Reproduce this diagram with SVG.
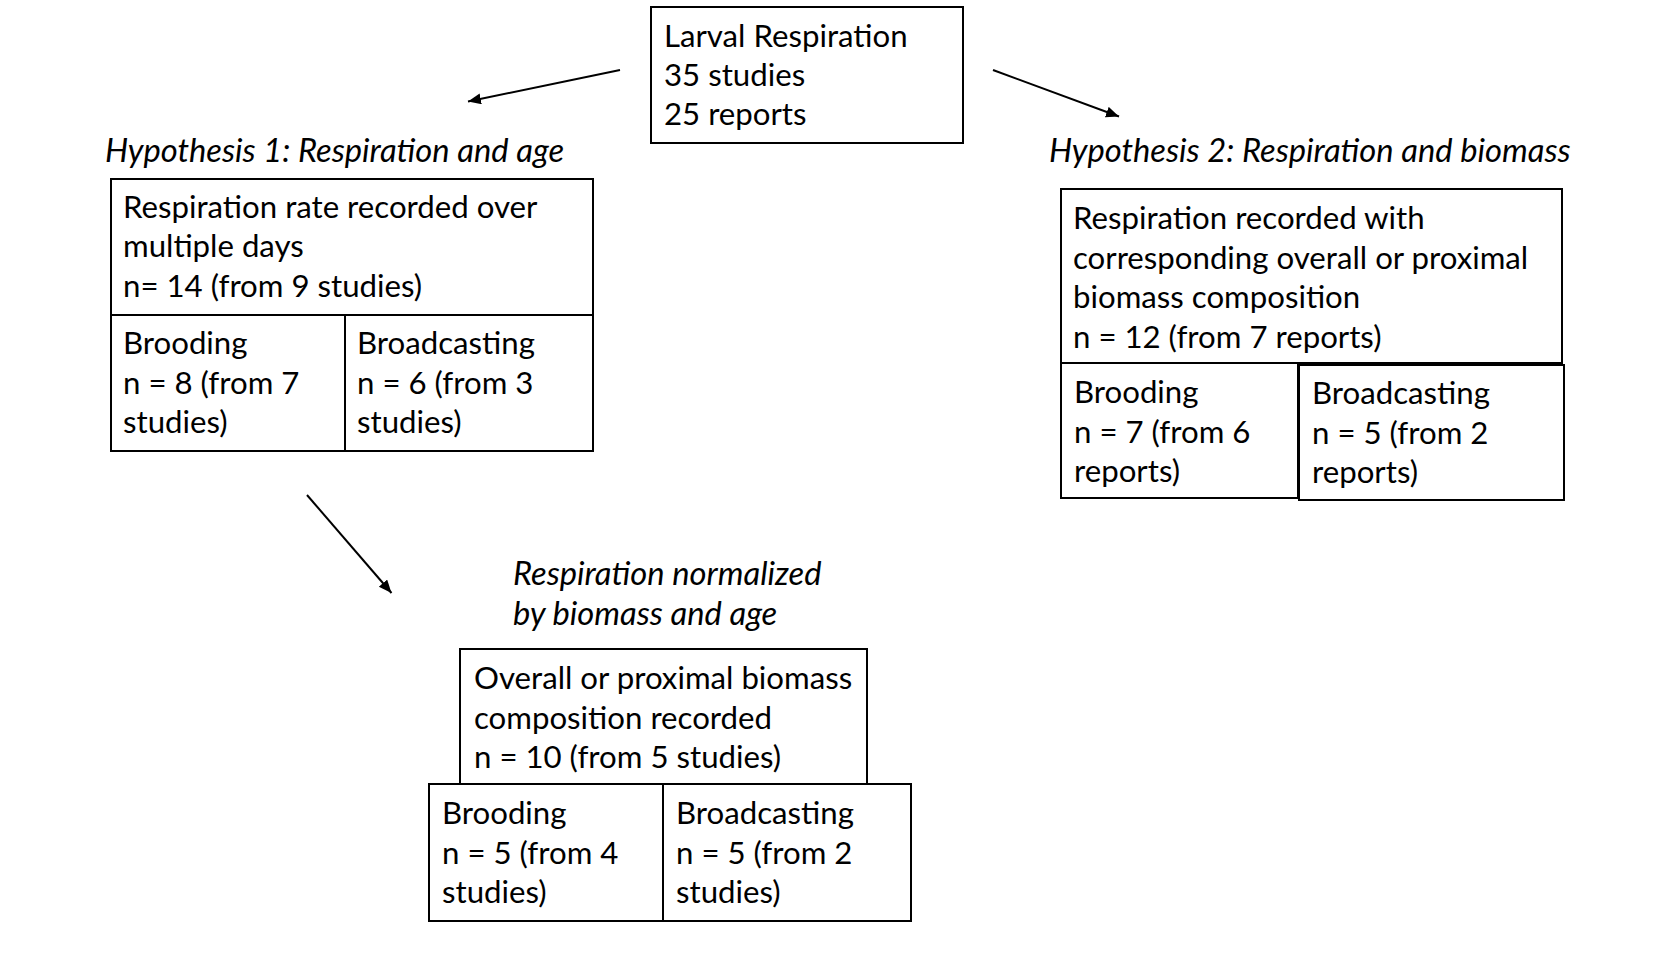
<svg xmlns="http://www.w3.org/2000/svg" width="1664" height="966" viewBox="0 0 1664 966">
<style>
.box{fill:#fff;stroke:#000;stroke-width:2}
.t{font-family:Lato,"Liberation Sans",sans-serif;font-size:31.2px;fill:#000}
.h{font-family:Lato,"Liberation Sans",sans-serif;font-size:32.7px;font-style:italic;fill:#000}
.c{stroke:#000;stroke-width:2;fill:none}
</style>
<defs>
<marker id="ah" markerUnits="userSpaceOnUse" markerWidth="14" markerHeight="12" refX="13" refY="5.5" orient="auto">
<path d="M0,0 L13,5.5 L0,11 z" fill="#000"/>
</marker>
</defs>
<rect width="1664" height="966" fill="#fff"/>
<g id="connectors">
<line class="c" x1="620" y1="70" x2="468" y2="101.5" marker-end="url(#ah)"/>
<line class="c" x1="993" y1="70" x2="1119" y2="116.5" marker-end="url(#ah)"/>
<line class="c" x1="307" y1="495" x2="391.5" y2="593" marker-end="url(#ah)"/>
</g>
<g id="root">
<rect class="box" x="651" y="7" width="312" height="136"/>
<text class="t" x="664" y="47">Larval Respiration</text>
<text class="t" x="664" y="86">35 studies</text>
<text class="t" x="664" y="125">25 reports</text>
</g>
<g id="h1">
<text class="h" x="105" y="162">Hypothesis 1: Respiration and age</text>
<rect class="box" x="111" y="179" width="482" height="272"/>
<line class="c" x1="111" y1="315" x2="593" y2="315"/>
<line class="c" x1="345" y1="315" x2="345" y2="451"/>
<text class="t" x="123" y="218">Respiration rate recorded over</text>
<text class="t" x="123" y="257">multiple days</text>
<text class="t" x="123" y="297">n= 14 (from 9 studies)</text>
</g>
<g id="h1-brooding">
<text class="t" x="123" y="354">Brooding</text>
<text class="t" x="123" y="394">n = 8 (from 7</text>
<text class="t" x="123" y="433">studies)</text>
</g>
<g id="h1-broadcasting">
<text class="t" x="357" y="354">Broadcasting</text>
<text class="t" x="357" y="394">n = 6 (from 3</text>
<text class="t" x="357" y="433">studies)</text>
</g>
<g id="h2">
<text class="h" x="1049" y="162">Hypothesis 2: Respiration and biomass</text>
<rect class="box" x="1061" y="189" width="501" height="174"/>
<text class="t" x="1073" y="229">Respiration recorded with</text>
<text class="t" x="1073" y="269">corresponding overall or proximal</text>
<text class="t" x="1073" y="308">biomass composition</text>
<text class="t" x="1073" y="348">n = 12 (from 7 reports)</text>
</g>
<g id="h2-brooding">
<rect class="box" x="1061" y="363" width="237" height="135"/>
<text class="t" x="1074" y="403">Brooding</text>
<text class="t" x="1074" y="443">n = 7 (from 6</text>
<text class="t" x="1074" y="482">reports)</text>
</g>
<g id="h2-broadcasting">
<rect class="box" x="1299" y="365" width="265" height="135"/>
<text class="t" x="1312" y="404">Broadcasting</text>
<text class="t" x="1312" y="444">n = 5 (from 2</text>
<text class="t" x="1312" y="483">reports)</text>
</g>
<g id="h3">
<text class="h" x="513" y="585">Respiration normalized</text>
<text class="h" x="513" y="625">by biomass and age</text>
<rect class="box" x="460" y="649" width="407" height="135"/>
<text class="t" x="474" y="689">Overall or proximal biomass</text>
<text class="t" x="474" y="729">composition recorded</text>
<text class="t" x="474" y="768">n = 10 (from 5 studies)</text>
</g>
<g id="h3-brooding">
<rect class="box" x="429" y="784" width="234" height="137"/>
<text class="t" x="442" y="824">Brooding</text>
<text class="t" x="442" y="864">n = 5 (from 4</text>
<text class="t" x="442" y="903">studies)</text>
</g>
<g id="h3-broadcasting">
<rect class="box" x="663" y="784" width="248" height="137"/>
<text class="t" x="676" y="824">Broadcasting</text>
<text class="t" x="676" y="864">n = 5 (from 2</text>
<text class="t" x="676" y="903">studies)</text>
</g>
</svg>
